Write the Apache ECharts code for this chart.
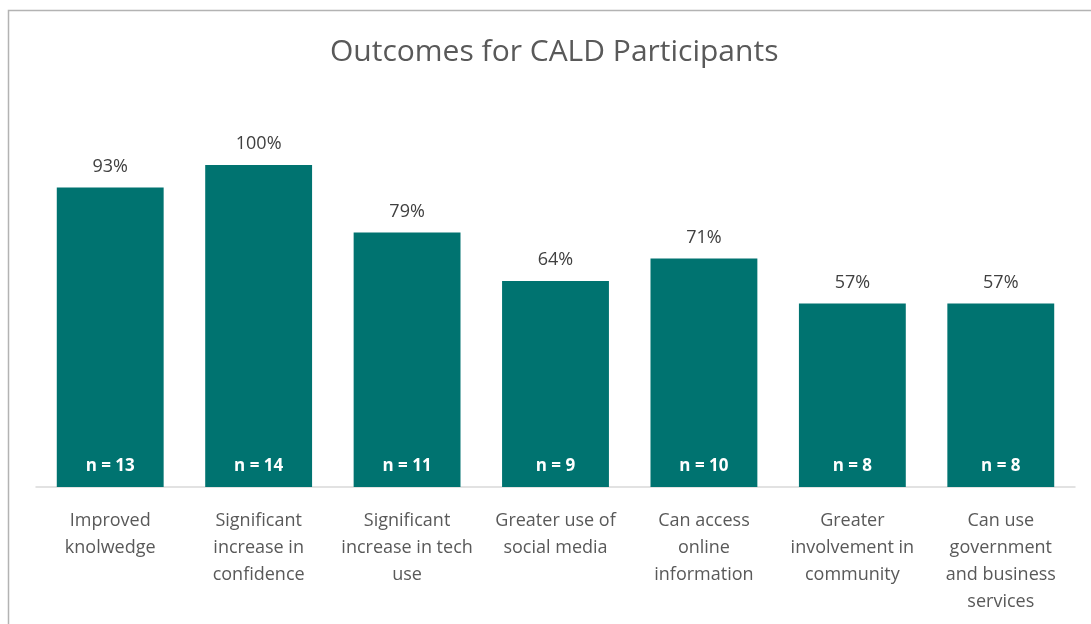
<!DOCTYPE html>
<html>
<head>
<meta charset="utf-8">
<script src="https://cdn.jsdelivr.net/npm/echarts@6/dist/echarts.min.js"></script>
<style>
  html, body { margin: 0; padding: 0; background: #fff; }
  .bar { width: 1091px; height: 624px; }
</style>
</head>
<body>
<div class="bar"></div>
<script>
// data
var categories = [
    "Improved\nknolwedge",
    "Significant\nincrease in\nconfidence",
    "Significant\nincrease in tech\nuse",
    "Greater use of\nsocial media",
    "Can access\nonline\ninformation",
    "Greater\ninvolvement in\ncommunity",
    "Can use\ngovernment\nand business\nservices"
];
var percents = [93, 100, 79, 64, 71, 57, 57];
var counts = [13, 14, 11, 9, 10, 8, 8];

(function () {
    var myChart = echarts.init(document.querySelector(".bar"));
    var font = "'Open Sans', sans-serif";
    var option = {
        animation: false,
        textStyle: { fontFamily: font },
        title: {
            text: "Outcomes for CALD Participants",
            left: 325,
            top: 32,
            textStyle: {
                color: "#595959",
                fontSize: 30,
                fontWeight: "normal",
                fontFamily: font
            }
        },
        // outer border of the chart area
        graphic: [
            {
                type: "rect",
                shape: { x: 8.5, y: 10.5, width: 1200, height: 800 },
                style: { fill: "none", stroke: "#b3b3b3", lineWidth: 1.5 },
                silent: true
            }
        ],
        grid: {
            left: 36,
            right: 16,
            top: 165,
            bottom: 137
        },
        xAxis: {
            type: "category",
            data: categories,
            axisTick: { show: false },
            axisLine: {
                lineStyle: { color: "#d9d9d9", width: 1.5 }
            },
            axisLabel: {
                color: "#595959",
                fontSize: 18,
                lineHeight: 27,
                margin: 20,
                interval: 0
            }
        },
        yAxis: {
            type: "value",
            min: 0,
            max: 100,
            show: false
        },
        series: [
            {
                type: "bar",
                data: percents,
                barCategoryGap: "28%",
                itemStyle: { color: "#007370" },
                label: {
                    show: true,
                    position: "top",
                    distance: 12,
                    color: "#404040",
                    fontSize: 18,
                    formatter: "{c}%"
                }
            },
            {
                // overlay for the n = labels
                type: "bar",
                data: percents,
                barGap: "-100%",
                itemStyle: { color: "rgba(0,0,0,0)" },
                label: {
                    show: true,
                    position: "insideBottom",
                    distance: 12,
                    color: "#ffffff",
                    fontSize: 17,
                    fontWeight: "bold",
                    formatter: function (p) {
                        return "n = " + counts[p.dataIndex];
                    }
                }
            }
        ]
    };
    myChart.setOption(option);
    window.addEventListener("resize", function () {
        myChart.resize();
    });
})();
</script>
</body>
</html>
